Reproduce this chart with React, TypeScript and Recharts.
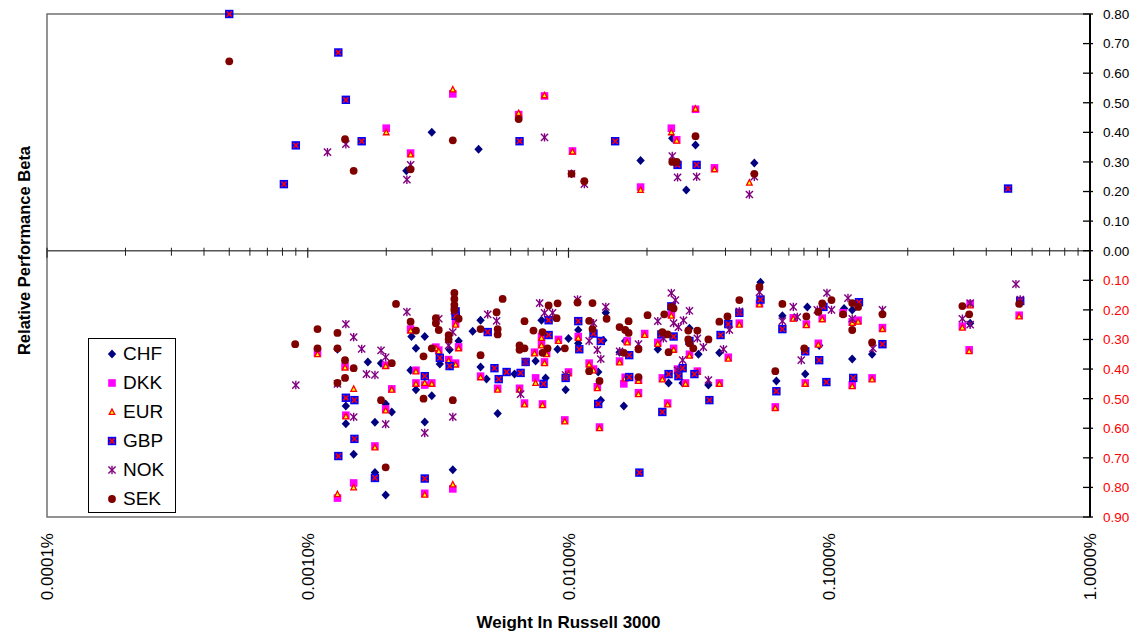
import React from 'react';
import {
  ScatterChart, Scatter, XAxis, YAxis, ReferenceLine, ReferenceArea, Legend,
} from 'recharts';

type Pt = [number, number];

// x: weight in Russell 3000 (percent), y: relative performance beta
const CHF: Pt[] = [
  [0.00239, 0.27], [0.00299, 0.40], [0.00452, 0.343], [0.0189, 0.305], [0.025, 0.38], [0.0283, 0.205], [0.0307, 0.357], [0.0516, 0.296],
  [0.0017, -0.376], [0.00191, -0.38], [0.0013, -0.333], [0.0014, -0.525], [0.0014, -0.585], [0.0015, -0.688], [0.00199, -0.826], [0.00181, -0.75], [0.00199, -0.518], [0.0021, -0.545], [0.00181, -0.58],
  [0.0025, -0.29], [0.00281, -0.29], [0.0026, -0.33], [0.00248, -0.404], [0.0026, -0.47], [0.00299, -0.49], [0.00281, -0.579], [0.00321, -0.383], [0.0035, -0.335], [0.00379, -0.305], [0.0036, -0.74],
  [0.00429, -0.272], [0.0046, -0.235], [0.0046, -0.393], [0.00485, -0.434], [0.00535, -0.55], [0.00621, -0.417], [0.00748, -0.373], [0.00788, -0.235], [0.00908, -0.333], [0.01, -0.297], [0.00817, -0.43], [0.00975, -0.47],
  [0.0109, -0.268], [0.0109, -0.313], [0.0136, -0.303], [0.013, -0.41], [0.0133, -0.505], [0.0139, -0.21], [0.0157, -0.343], [0.0165, -0.305], [0.0163, -0.525], [0.022, -0.333], [0.0242, -0.447], [0.0274, -0.447], [0.0291, -0.262], [0.0315, -0.35], [0.0344, -0.454], [0.0379, -0.345],
  [0.0545, -0.107], [0.0661, -0.22], [0.0627, -0.44], [0.0824, -0.19], [0.0809, -0.417], [0.0915, -0.32], [0.114, -0.195], [0.1225, -0.2], [0.1225, -0.366], [0.146, -0.35], [0.347, -0.245],
];

const DKK: Pt[] = [
  [0.002, 0.414], [0.00248, 0.33], [0.0036, 0.53], [0.00644, 0.46], [0.00809, 0.523], [0.01036, 0.337], [0.0189, 0.215], [0.0248, 0.414], [0.026, 0.375], [0.0307, 0.478], [0.0363, 0.28],
  [0.00109, -0.345], [0.00139, -0.39], [0.00199, -0.387], [0.0014, -0.556], [0.0015, -0.785], [0.0013, -0.836], [0.00199, -0.535], [0.00181, -0.66], [0.0021, -0.467],
  [0.00248, -0.265], [0.0026, -0.404], [0.0026, -0.447], [0.00281, -0.454], [0.00299, -0.447], [0.00281, -0.82], [0.0031, -0.326], [0.00318, -0.336], [0.00347, -0.368], [0.00369, -0.38], [0.00369, -0.245], [0.00379, -0.325], [0.0036, -0.805],
  [0.0046, -0.424], [0.00535, -0.465], [0.00649, -0.465], [0.00678, -0.515], [0.00741, -0.343], [0.00748, -0.43], [0.00795, -0.518], [0.00809, -0.376], [0.00788, -0.29], [0.00788, -0.316], [0.00824, -0.345], [0.00915, -0.3],
  [0.01, -0.41], [0.00968, -0.572], [0.0109, -0.29], [0.012, -0.38], [0.01247, -0.4], [0.0129, -0.46], [0.01315, -0.596], [0.0157, -0.373], [0.0168, -0.305], [0.0165, -0.428], [0.0163, -0.45], [0.01855, -0.437], [0.01855, -0.48], [0.0196, -0.28],
  [0.022, -0.31], [0.0229, -0.43], [0.024, -0.515], [0.0248, -0.215], [0.0253, -0.33], [0.0262, -0.4], [0.0281, -0.447], [0.0291, -0.35], [0.0312, -0.407], [0.0379, -0.447], [0.041, -0.36], [0.0452, -0.245], [0.054, -0.178], [0.0621, -0.528],
  [0.0728, -0.227], [0.0817, -0.248], [0.0809, -0.447], [0.0908, -0.313], [0.094, -0.228], [0.113, -0.21], [0.129, -0.235], [0.1225, -0.24], [0.1225, -0.454], [0.146, -0.43], [0.16, -0.26], [0.344, -0.335], [0.347, -0.18], [0.324, -0.255], [0.535, -0.218],
];

const EUR: Pt[] = [
  [0.002, 0.40], [0.00248, 0.325], [0.0036, 0.545], [0.00644, 0.465], [0.00809, 0.525], [0.01036, 0.335], [0.0189, 0.205], [0.0248, 0.40], [0.026, 0.372], [0.0307, 0.48], [0.0363, 0.275], [0.0494, 0.23],
  [0.00109, -0.35], [0.00139, -0.395], [0.00199, -0.39], [0.0015, -0.467], [0.0014, -0.56], [0.0015, -0.8], [0.0013, -0.823], [0.00199, -0.54], [0.00181, -0.665], [0.0021, -0.47],
  [0.00248, -0.27], [0.0026, -0.408], [0.0026, -0.45], [0.00281, -0.447], [0.00299, -0.45], [0.00281, -0.825], [0.0031, -0.33], [0.00318, -0.34], [0.00347, -0.372], [0.00369, -0.385], [0.00369, -0.25], [0.00379, -0.33], [0.0036, -0.79],
  [0.0046, -0.428], [0.00535, -0.47], [0.00649, -0.47], [0.00678, -0.52], [0.00741, -0.347], [0.00748, -0.447], [0.00795, -0.522], [0.00809, -0.38], [0.00788, -0.295], [0.00788, -0.32], [0.00824, -0.35], [0.00915, -0.305],
  [0.01, -0.415], [0.00968, -0.577], [0.0109, -0.295], [0.012, -0.385], [0.01247, -0.405], [0.0129, -0.465], [0.01315, -0.6], [0.0157, -0.378], [0.0168, -0.31], [0.0165, -0.432], [0.01855, -0.44], [0.01855, -0.485], [0.0196, -0.285],
  [0.022, -0.315], [0.0229, -0.435], [0.024, -0.52], [0.0248, -0.22], [0.0253, -0.335], [0.0262, -0.405], [0.0281, -0.45], [0.0291, -0.355], [0.0312, -0.41], [0.0379, -0.45], [0.041, -0.365], [0.0452, -0.25], [0.054, -0.182], [0.0621, -0.532],
  [0.0728, -0.23], [0.0817, -0.252], [0.0809, -0.45], [0.0908, -0.318], [0.094, -0.232], [0.113, -0.214], [0.129, -0.24], [0.1225, -0.244], [0.1225, -0.458], [0.146, -0.435], [0.16, -0.265], [0.344, -0.34], [0.347, -0.185], [0.324, -0.26], [0.535, -0.222],
];

const GBP: Pt[] = [
  [0.0005, 0.8], [0.00131, 0.67], [0.0014, 0.51], [0.0009, 0.356], [0.00081, 0.225], [0.00161, 0.37], [0.00649, 0.37], [0.0151, 0.37], [0.0262, 0.29], [0.031, 0.29], [0.485, 0.21],
  [0.0014, -0.497], [0.00151, -0.505], [0.00151, -0.636], [0.00131, -0.694], [0.00181, -0.768], [0.00281, -0.424], [0.00281, -0.77], [0.00321, -0.362], [0.0035, -0.39], [0.00369, -0.205], [0.00369, -0.22],
  [0.0049, -0.275], [0.0052, -0.397], [0.0054, -0.434], [0.00579, -0.41], [0.00655, -0.413], [0.00685, -0.376], [0.00802, -0.45], [0.00839, -0.235], [0.00839, -0.285], [0.00975, -0.43],
  [0.0109, -0.238], [0.011, -0.333], [0.01247, -0.28], [0.0133, -0.305], [0.013, -0.518], [0.0171, -0.353], [0.0171, -0.427], [0.0187, -0.75], [0.0227, -0.283], [0.0242, -0.417], [0.0229, -0.545], [0.0248, -0.188], [0.0253, -0.29], [0.0264, -0.424], [0.0274, -0.397], [0.0291, -0.305], [0.0304, -0.417], [0.0347, -0.505], [0.0383, -0.285], [0.041, -0.248], [0.0452, -0.21],
  [0.0545, -0.165], [0.0661, -0.265], [0.0627, -0.475], [0.0809, -0.34], [0.0915, -0.37], [0.0975, -0.444], [0.095, -0.19], [0.1236, -0.43], [0.13, -0.174], [0.16, -0.316], [0.54, -0.17],
];

const NOK: Pt[] = [
  [0.00119, 0.333], [0.0014, 0.36], [0.0024, 0.24], [0.00248, 0.29], [0.00809, 0.383], [0.01027, 0.26], [0.0115, 0.225], [0.025, 0.32], [0.0262, 0.248], [0.031, 0.25], [0.0494, 0.19], [0.0516, 0.25],
  [0.0009, -0.454], [0.0014, -0.248], [0.0013, -0.45], [0.0015, -0.292], [0.00161, -0.332], [0.00168, -0.417], [0.00181, -0.42], [0.00191, -0.337], [0.00199, -0.36], [0.0015, -0.562], [0.00199, -0.586], [0.0024, -0.207], [0.00281, -0.616], [0.00318, -0.23], [0.00347, -0.32], [0.00365, -0.203], [0.0036, -0.275], [0.0036, -0.562],
  [0.0049, -0.215], [0.0053, -0.237], [0.00655, -0.485], [0.00685, -0.376], [0.00775, -0.177], [0.00809, -0.21], [0.00869, -0.21], [0.00975, -0.42], [0.01083, -0.165], [0.01247, -0.245], [0.012, -0.305], [0.0129, -0.335], [0.0133, -0.366], [0.0139, -0.19], [0.0157, -0.34], [0.01855, -0.316],
  [0.022, -0.238], [0.0231, -0.296], [0.0248, -0.143], [0.0257, -0.167], [0.0253, -0.245], [0.0264, -0.258], [0.0262, -0.404], [0.0274, -0.37], [0.0276, -0.235], [0.0291, -0.203], [0.0312, -0.296], [0.0329, -0.326], [0.0344, -0.437], [0.0393, -0.333], [0.0414, -0.268], [0.0452, -0.205],
  [0.054, -0.14], [0.0661, -0.238], [0.0728, -0.19], [0.0754, -0.224], [0.0781, -0.37], [0.09, -0.2], [0.098, -0.143], [0.102, -0.2], [0.118, -0.16], [0.1225, -0.23], [0.147, -0.33], [0.16, -0.2], [0.347, -0.177], [0.324, -0.23], [0.347, -0.25], [0.52, -0.113], [0.54, -0.165],
];

const SEK: Pt[] = [
  [0.0005, 0.64], [0.00139, 0.377], [0.0015, 0.27], [0.00248, 0.275], [0.0036, 0.373], [0.00644, 0.445], [0.01027, 0.26], [0.0115, 0.235], [0.025, 0.3], [0.026, 0.3], [0.0307, 0.387], [0.0516, 0.26],
  [0.000895, -0.316], [0.00109, -0.265], [0.00109, -0.33], [0.0013, -0.278], [0.0013, -0.33], [0.00139, -0.37], [0.00139, -0.43], [0.0013, -0.447], [0.0015, -0.397], [0.0021, -0.38], [0.00199, -0.732], [0.00191, -0.505],
  [0.00218, -0.18], [0.00248, -0.24], [0.0026, -0.27], [0.00278, -0.357], [0.00278, -0.5], [0.00299, -0.33], [0.0031, -0.228], [0.0031, -0.245], [0.00318, -0.268], [0.00347, -0.285], [0.00347, -0.3], [0.00365, -0.143], [0.00365, -0.163], [0.00365, -0.183], [0.00365, -0.2], [0.00379, -0.23], [0.0036, -0.505],
  [0.0046, -0.265], [0.0046, -0.353], [0.0053, -0.208], [0.00535, -0.265], [0.00535, -0.283], [0.00559, -0.163], [0.00678, -0.238], [0.00649, -0.32], [0.00678, -0.33], [0.00649, -0.335], [0.00734, -0.27], [0.00795, -0.275], [0.00795, -0.345], [0.00831, -0.33], [0.00839, -0.185], [0.00908, -0.178], [0.009, -0.228], [0.00968, -0.33],
  [0.01083, -0.175], [0.01236, -0.177], [0.012, -0.237], [0.01236, -0.265], [0.012, -0.407], [0.01315, -0.44], [0.014, -0.23], [0.0157, -0.258], [0.0165, -0.268], [0.017, -0.278], [0.017, -0.238], [0.0163, -0.345], [0.01855, -0.333], [0.01855, -0.427],
  [0.0201, -0.218], [0.0229, -0.275], [0.0233, -0.215], [0.0242, -0.343], [0.024, -0.283], [0.0248, -0.19], [0.0253, -0.195], [0.0288, -0.27], [0.0288, -0.3], [0.0291, -0.313], [0.0301, -0.33], [0.0312, -0.27], [0.0344, -0.3], [0.0379, -0.24], [0.0407, -0.222], [0.0452, -0.167],
  [0.054, -0.122], [0.0661, -0.18], [0.0621, -0.407], [0.0817, -0.222], [0.0802, -0.33], [0.0908, -0.207], [0.094, -0.178], [0.102, -0.167], [0.113, -0.215], [0.1225, -0.177], [0.129, -0.19], [0.1225, -0.268], [0.146, -0.31], [0.16, -0.215], [0.324, -0.187], [0.344, -0.215], [0.535, -0.18],
];

const X_TICKS = [0.0001, 0.001, 0.01, 0.1, 1];
const X_MINOR = [2, 3, 4, 5, 6, 7, 8, 9];
const Y_TICKS = [0.8, 0.7, 0.6, 0.5, 0.4, 0.3, 0.2, 0.1, 0, -0.1, -0.2, -0.3, -0.4, -0.5, -0.6, -0.7, -0.8, -0.9];
const SERIES_NAMES = ['CHF', 'DKK', 'EUR', 'GBP', 'NOK', 'SEK'];

const FONT = '"Liberation Sans", Arial, sans-serif';

const toData = (pts: Pt[]) => pts.map(([x, y]) => ({ x, y }));

// marker shapes
const mark = (name: string, cx: number, cy: number) => {
  switch (name) {
    case 'CHF':
      return <polygon points={`${cx},${cy - 4.5} ${cx + 4.2},${cy} ${cx},${cy + 4.5} ${cx - 4.2},${cy}`} fill="#000080" />;
    case 'DKK':
      return <rect x={cx - 3.8} y={cy - 3.8} width={7.6} height={7.6} fill="#FF00FF" />;
    case 'EUR':
      return <polygon points={`${cx},${cy - 3} ${cx + 2.8},${cy + 2.4} ${cx - 2.8},${cy + 2.4}`} fill="#FFFF00" stroke="#FF0000" strokeWidth={1.3} />;
    case 'GBP':
      return (
        <g>
          <rect x={cx - 4.2} y={cy - 4.2} width={8.4} height={8.4} fill="#0000FF" />
          <line x1={cx - 2.6} y1={cy - 2.6} x2={cx + 2.6} y2={cy + 2.6} stroke="#FF0000" strokeWidth={1.5} />
          <line x1={cx - 2.6} y1={cy + 2.6} x2={cx + 2.6} y2={cy - 2.6} stroke="#FF0000" strokeWidth={1.5} />
        </g>
      );
    case 'NOK':
      return (
        <g stroke="#800080" strokeWidth={1.4}>
          <line x1={cx - 3.6} y1={cy - 3.6} x2={cx + 3.6} y2={cy + 3.6} />
          <line x1={cx - 3.6} y1={cy + 3.6} x2={cx + 3.6} y2={cy - 3.6} />
          <line x1={cx} y1={cy - 4.2} x2={cx} y2={cy + 4.2} />
        </g>
      );
    default:
      return <circle cx={cx} cy={cy} r={3.9} fill="#800000" />;
  }
};

const shapeFor = (name: string) => (props: any) => {
  const { cx, cy } = props;
  if (cx == null || cy == null) return <g />;
  return mark(name, cx, cy);
};

const BottomTick = (props: any) => {
  const { x, y, payload } = props;
  return (
    <text
      transform={`translate(${x},${y}) rotate(-90)`}
      textAnchor="end"
      dy="0.36em"
      fontSize={17}
      fontFamily={FONT}
      fill="#000"
    >
      {Number(payload.value).toFixed(4) + '%'}
    </text>
  );
};

const RightTick = (props: any) => {
  const { x, y, payload } = props;
  const v = Number(payload.value);
  const ax = x - 13;
  return (
    <g>
      <line x1={ax - 7} x2={ax + 3} y1={y} y2={y} stroke="#000" strokeWidth={1.3} />
      <text x={x} y={y} dy="0.36em" fontSize={13.5} fontFamily={FONT} fill={v < 0 ? '#FF0000' : '#000'} textAnchor="start">
        {Math.abs(v).toFixed(2)}
      </text>
    </g>
  );
};

const XTitle = (props: any) => {
  const vb = props.viewBox || {};
  return (
    <text x={vb.x + vb.width / 2} y={vb.y + vb.height - 8} textAnchor="middle" fontSize={17} fontWeight="bold" fontFamily={FONT} fill="#000">
      Weight In Russell 3000
    </text>
  );
};

const YTitle = (props: any) => {
  const vb = props.viewBox || {};
  const cx = vb.x + 16;
  const cy = vb.y + vb.height / 2 - 15;
  return (
    <text x={cx} y={cy} transform={`rotate(-90, ${cx}, ${cy})`} textAnchor="middle" dominantBaseline="central" fontSize={16.5} fontWeight="bold" fontFamily={FONT} fill="#000">
      Relative Performance Beta
    </text>
  );
};

const LegendBox = () => (
  <div style={{ border: '1px solid #000', background: '#fff', width: 86, height: 173, fontFamily: FONT, boxSizing: 'content-box' }}>
    {SERIES_NAMES.map((n) => (
      <div key={n} style={{ height: 29, display: 'flex', alignItems: 'center' }}>
        <svg width={16} height={16} style={{ marginLeft: 15, marginRight: 3 }}>
          {mark(n, 8, 8)}
        </svg>
        <span style={{ fontSize: 19, color: '#000', lineHeight: '19px' }}>{n}</span>
      </div>
    ))}
  </div>
);

export default function App() {
  const series: [string, Pt[]][] = [
    ['CHF', CHF], ['DKK', DKK], ['EUR', EUR], ['GBP', GBP], ['NOK', NOK], ['SEK', SEK],
  ];
  const minorTicks: number[] = [];
  X_TICKS.slice(0, 4).forEach((d) => X_MINOR.forEach((m) => minorTicks.push(d * m)));

  return (
    <ScatterChart width={1138} height={628} margin={{ top: 6, right: 0, bottom: 0, left: 0 }} style={{ fontFamily: FONT }}>
      <XAxis
        dataKey="x"
        type="number"
        scale="log"
        domain={[0.0001, 1]}
        ticks={X_TICKS}
        allowDataOverflow
        height={119}
        axisLine={false}
        tickLine={false}
        tickSize={0}
        tickMargin={16}
        tick={<BottomTick />}
        interval={0}
        label={<XTitle />}
      />
      <YAxis
        yAxisId="left"
        orientation="left"
        type="number"
        domain={[-0.9, 0.8]}
        width={39}
        tick={false}
        axisLine={false}
        tickLine={false}
        label={<YTitle />}
      />
      <YAxis
        dataKey="y"
        orientation="right"
        type="number"
        domain={[-0.9, 0.8]}
        ticks={Y_TICKS}
        interval={0}
        width={56}
        axisLine={{ stroke: '#000', strokeWidth: 2 }}
        tickLine={false}
        tickSize={0}
        tickMargin={13}
        tick={<RightTick />}
      />
      <ReferenceArea x1={0.0001} x2={1} y1={-0.9} y2={0.8} fill="none" fillOpacity={0} stroke="#707070" strokeWidth={1.5} />
      <ReferenceLine y={0} stroke="#555" strokeWidth={1.6} />
      {X_TICKS.map((v) => (
        <ReferenceLine key={'M' + v} segment={[{ x: v, y: 0.01 }, { x: v, y: -0.024 }]} stroke="#222" strokeWidth={1.2} />
      ))}
      {minorTicks.map((v) => (
        <ReferenceLine key={'m' + v} segment={[{ x: v, y: 0.01 }, { x: v, y: -0.017 }]} stroke="#222" strokeWidth={1} />
      ))}
      <Legend
        layout="horizontal"
        verticalAlign="middle"
        align="center"
        content={<LegendBox />}
        wrapperStyle={{ left: 80, top: 330, width: 88, height: 175 }}
      />
      {series.map(([name, pts]) => (
        <Scatter key={name} name={name} data={toData(pts)} shape={shapeFor(name)} isAnimationActive={false} />
      ))}
    </ScatterChart>
  );
}
